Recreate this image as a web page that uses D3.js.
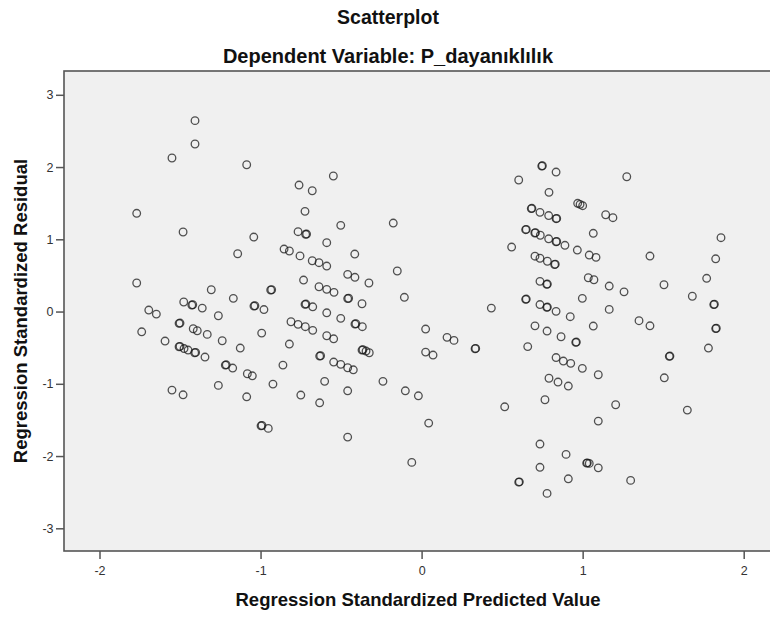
<!DOCTYPE html>
<html lang="tr">
	<head>
		<meta charset="utf-8">
		<title> Scatterplot </title>
		<script src="https://d3js.org/d3.v7.min.js"></script>
		<style>
			body {
				margin: 0;
				background: #ffffff;
			}
			text {
				font-family: "Liberation Sans", Arial, sans-serif;
			}
			.tick text {
				font-size: 12.5px;
				fill: #333333;
			}
			.tick line {
				stroke: #555555;
				stroke-width: 1.5;
			}
			circle.pt {
				fill: none;
				stroke: #1a1a1a;
				stroke-opacity: 0.75;
				stroke-width: 1.3;
			}
		</style>
	</head>
	<body>
		<script type="text/javascript">

			// Canvas size
			const w = 770, h = 617;

			// Data: [standardized predicted value, standardized residual]
			var leftGroup = [
				[-1.407, 2.642], [-1.407, 2.319], [-1.550, 2.125], [-1.086, 2.032],
				[-1.769, 1.360], [-1.481, 1.101], [-1.042, 1.031], [-0.854, 0.865],
				[-0.821, 0.838], [-1.142, 0.800], [-1.769, 0.395], [-1.306, 0.302],
				[-0.937, 0.298], [-0.931, 0.302], [-1.169, 0.183], [-1.477, 0.132],
				[-1.427, 0.090], [-1.421, 0.094], [-1.362, 0.048], [-1.694, 0.021],
				[-1.041, 0.076], [-1.035, 0.080], [-0.979, 0.028], [-1.262, -0.058],
				[-1.647, -0.035], [-1.506, -0.163], [-1.500, -0.159], [-1.738, -0.280],
				[-1.418, -0.238], [-1.393, -0.266], [-1.331, -0.316], [-0.993, -0.298],
				[-0.811, -0.141], [-0.767, -0.177], [-1.593, -0.408], [-1.238, -0.404],
				[-0.821, -0.450], [-1.506, -0.487], [-1.500, -0.483], [-1.475, -0.512],
				[-1.450, -0.533], [-1.409, -0.570], [-1.403, -0.566], [-1.345, -0.630],
				[-1.126, -0.505], [-0.861, -0.741], [-1.219, -0.741], [-1.213, -0.737],
				[-1.173, -0.782], [-1.082, -0.861], [-1.051, -0.889], [-1.262, -1.022],
				[-0.923, -1.004], [-1.550, -1.087], [-1.481, -1.152], [-1.086, -1.180],
				[-0.750, -1.156], [-0.997, -1.581], [-0.991, -1.577], [-0.952, -1.617],
				[-0.761, 1.751], [-0.767, 1.105], [-0.755, 0.770],
				[-0.548, 1.876], [-0.679, 1.672], [-0.724, 1.387], [-0.720, 1.069],
				[-0.714, 1.073], [-0.502, 1.193], [-0.589, 0.953], [-0.415, 0.796],
				[-0.679, 0.703], [-0.637, 0.676], [-0.589, 0.630], [-0.459, 0.515],
				[-0.414, 0.474], [-0.327, 0.395], [-0.733, 0.436], [-0.637, 0.343],
				[-0.589, 0.307], [-0.544, 0.266], [-0.459, 0.180], [-0.453, 0.184],
				[-0.370, 0.108], [-0.724, 0.100], [-0.718, 0.104], [-0.676, 0.066],
				[-0.589, -0.017], [-0.502, -0.094], [-0.414, -0.173], [-0.408, -0.169],
				[-0.368, -0.210], [-0.722, -0.210], [-0.676, -0.260], [-0.589, -0.335],
				[-0.546, -0.377], [-0.633, -0.616], [-0.627, -0.612], [-0.546, -0.699],
				[-0.502, -0.731], [-0.459, -0.778], [-0.424, -0.806], [-0.370, -0.533],
				[-0.364, -0.529], [-0.345, -0.547], [-0.325, -0.570], [-0.602, -0.966],
				[-0.459, -1.097], [-0.633, -1.263], [-0.459, -1.738]
			];

			var middleGroup = [
				[-0.176, 1.225], [-0.151, 0.561], [-0.107, 0.197], [-0.240, -0.966],
				[-0.101, -1.097], [-0.020, -1.166], [0.044, -1.544], [-0.061, -2.088],
				[0.025, -0.242], [0.025, -0.561], [0.071, -0.602], [0.158, -0.357],
				[0.201, -0.399], [0.332, -0.515], [0.336, -0.511], [0.433, 0.048],
				[0.516, -1.318], [0.559, 0.893], [0.603, 1.821]
			];

			var rightGroup = [
				[0.646, 1.133], [0.650, 1.137], [0.646, 0.169], [0.650, 0.173],
				[0.659, -0.485], [0.603, -2.361], [0.607, -2.357], [0.681, 1.425],
				[0.685, 1.429], [0.746, 2.014], [0.750, 2.018], [0.835, 1.931],
				[1.274, 1.866], [0.791, 1.650], [0.969, 1.498], [0.984, 1.484],
				[1.000, 1.465], [1.143, 1.340], [1.188, 1.299], [0.735, 1.373],
				[0.789, 1.329], [0.835, 1.285], [0.839, 1.289], [1.066, 1.083],
				[0.703, 1.087], [0.707, 1.091], [0.737, 1.056], [0.789, 1.007],
				[0.835, 0.966], [0.839, 0.970], [0.890, 0.917], [0.967, 0.851],
				[1.041, 0.782], [1.083, 0.750], [1.418, 0.768], [1.859, 1.022],
				[1.826, 0.730], [1.770, 0.460], [1.681, 0.212], [1.814, 0.097],
				[1.818, 0.101], [0.704, 0.766], [0.735, 0.738], [0.781, 0.696],
				[0.826, 0.651], [0.830, 0.655], [0.735, 0.418], [0.777, 0.377],
				[0.781, 0.381], [1.035, 0.468], [1.070, 0.440], [1.165, 0.353],
				[1.257, 0.273], [1.505, 0.371], [0.998, 0.183], [1.165, 0.030],
				[0.735, 0.097], [0.777, 0.058], [0.781, 0.062], [0.835, 0.003],
				[0.923, -0.071], [1.350, -0.127], [1.418, -0.197], [0.704, -0.198],
				[0.779, -0.270], [0.866, -0.349], [1.066, -0.201], [0.957, -0.426],
				[0.961, -0.422], [1.538, -0.620], [1.542, -0.616], [1.507, -0.917],
				[1.781, -0.505], [1.826, -0.235], [1.830, -0.231], [1.650, -1.364],
				[0.835, -0.637], [0.880, -0.685], [0.926, -0.717], [0.998, -0.786],
				[1.097, -0.875], [0.791, -0.923], [0.847, -0.976], [0.911, -1.031],
				[0.766, -1.221], [1.205, -1.290], [1.097, -1.516], [0.735, -1.834],
				[0.897, -1.977], [1.025, -2.098], [1.029, -2.094], [1.041, -2.102],
				[1.097, -2.163], [0.735, -2.156], [0.911, -2.315], [1.298, -2.337],
				[0.779, -2.517]
			];

			var xTicks = [-2, -1, 0, 1, 2];
			var yTicks = [-3, -2, -1, 0, 1, 2, 3];

			var titleText = "Scatterplot";
			var subtitleText = "Dependent Variable: P_dayanıklılık";
			var xLabel = "Regression Standardized Predicted Value";
			var yLabel = "Regression Standardized Residual";

			// Plot frame (right side runs past the edge of the picture)
			var frame = {left: 64, top: 71, right: 790, bottom: 551};

			var svg = d3.select("body")
						.append("svg")
						.attr("width", w)
						.attr("height", h);

			// Scales
			var xScale = d3.scaleLinear()
							.domain([-2, 2])
							.range([99.5, 743.7]);

			var yScale = d3.scaleLinear()
							.domain([-3, 3])
							.range([528.3, 94.8]);

			// Background + frame
			svg.append("rect")
			   .attr("x", frame.left)
			   .attr("y", frame.top)
			   .attr("width", frame.right - frame.left)
			   .attr("height", frame.bottom - frame.top)
			   .attr("fill", "#f0f0f0")
			   .attr("stroke", "#555555")
			   .attr("stroke-width", 1.6);

			// Axes
			var xAxis = d3.axisBottom(xScale)
						  .tickValues(xTicks)
						  .tickSize(8)
						  .tickPadding(7)
						  .tickFormat(d => String(d));

			var yAxis = d3.axisLeft(yScale)
						  .tickValues(yTicks)
						  .tickSize(8)
						  .tickPadding(2.5)
						  .tickFormat(d => String(d));

			svg.append("g")
			   .attr("class", "xAxis")
			   .attr("transform", "translate(0," + frame.bottom + ")")
			   .call(xAxis)
			   .call(g => g.select(".domain").remove());

			svg.append("g")
			   .attr("class", "yAxis")
			   .attr("transform", "translate(" + frame.left + ",0)")
			   .call(yAxis)
			   .call(g => g.select(".domain").remove());

			// Points
			var points = leftGroup.concat(middleGroup, rightGroup);

			svg.append("g")
			   .selectAll("circle")
			   .data(points)
			   .enter()
			   .append("circle")
			   .attr("class", "pt")
			   .attr("cx", d => xScale(d[0]))
			   .attr("cy", d => yScale(d[1]))
			   .attr("r", 3.8);

			// Titles and axis labels
			svg.append("text")
			   .attr("x", 388)
			   .attr("y", 24)
			   .attr("text-anchor", "middle")
			   .style("font-size", "19.5px")
			   .style("font-weight", "bold")
			   .attr("fill", "#111")
			   .text(titleText);

			svg.append("text")
			   .attr("x", 388)
			   .attr("y", 62.5)
			   .attr("text-anchor", "middle")
			   .style("font-size", "20px")
			   .style("font-weight", "bold")
			   .attr("fill", "#111")
			   .text(subtitleText);

			svg.append("text")
			   .attr("x", 418)
			   .attr("y", 606)
			   .attr("text-anchor", "middle")
			   .style("font-size", "18.5px")
			   .style("font-weight", "bold")
			   .attr("fill", "#111")
			   .text(xLabel);

			svg.append("text")
			   .attr("transform", "rotate(-90)")
			   .attr("x", -311)
			   .attr("y", 27)
			   .attr("text-anchor", "middle")
			   .style("font-size", "18.5px")
			   .style("font-weight", "bold")
			   .attr("fill", "#111")
			   .text(yLabel);

		</script>
	</body>
</html>
